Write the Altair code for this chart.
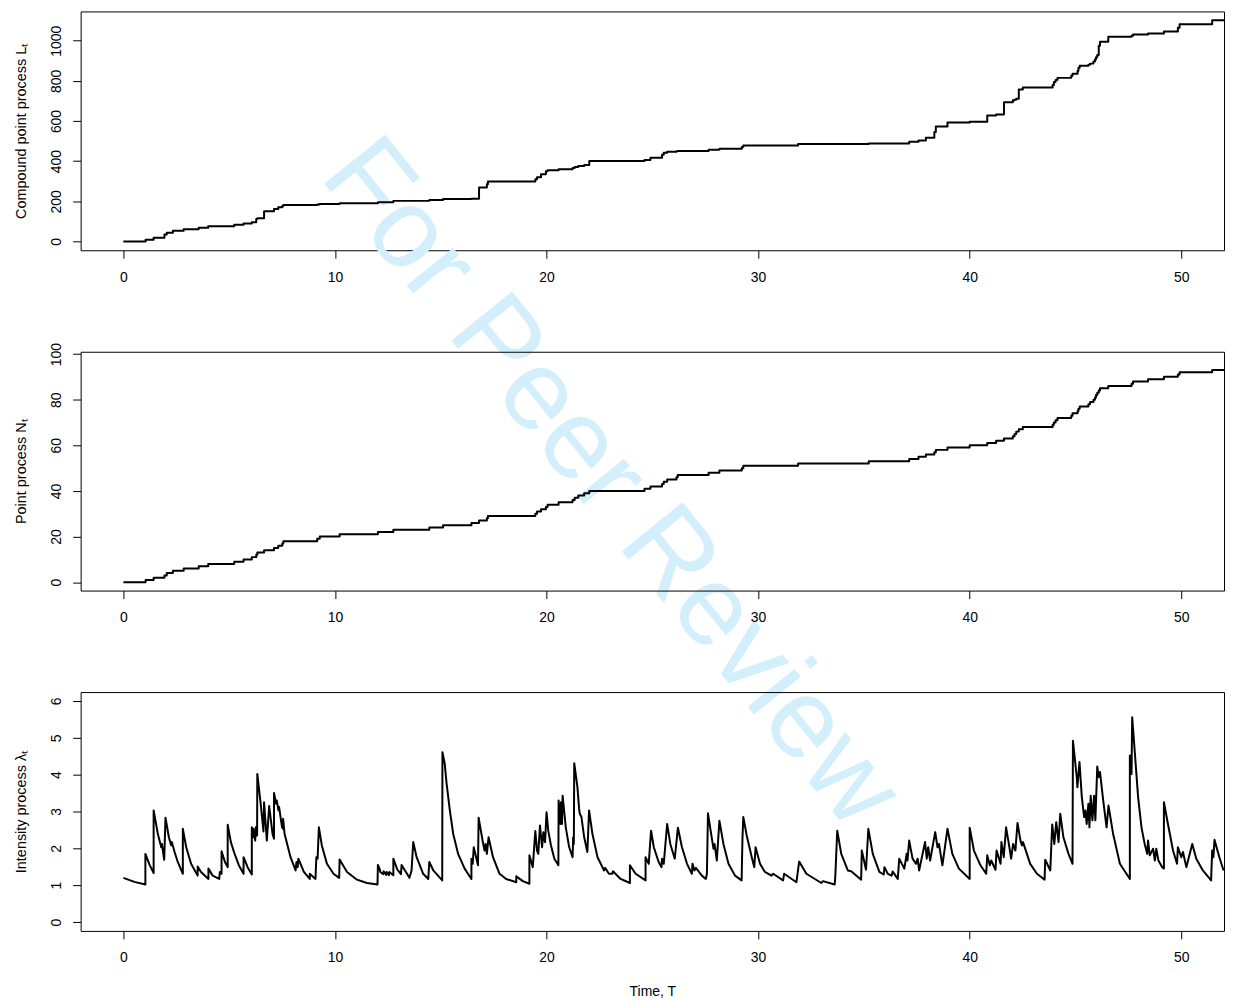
import altair as alt
import pandas as pd

FONT = "Liberation Sans"

# ---- event times (jumps of N_t and L_t) ----
event_t = [1.05, 1.43, 1.94, 2.05, 2.34, 2.85, 3.56, 4.01, 5.24, 5.68,
           6.07, 6.28, 6.33, 6.65, 7.12, 7.32, 7.51, 7.56, 9.16, 9.28,
           10.22, 12.03, 12.76, 14.46, 15.11, 16.45, 16.81, 17.18, 17.23, 19.47,
           19.55, 19.74, 19.97, 20.05, 20.57, 21.23, 21.33, 21.50, 21.78, 22.02,
           24.63, 24.91, 25.46, 25.54, 25.70, 26.14, 26.20, 27.66, 28.17, 29.23,
           29.30, 31.89, 35.23, 37.14, 37.58, 37.93, 38.33, 38.40, 38.95, 40.00,
           40.83, 41.25, 41.62, 42.04, 42.12, 42.20, 42.32, 42.51, 43.92, 43.98,
           44.06, 44.15, 44.80, 44.86, 45.10, 45.14, 45.20, 45.61, 45.69, 45.85,
           45.92, 45.97, 46.03, 46.10, 46.16, 46.55, 47.65, 47.72, 48.43, 49.18,
           49.84, 49.92, 51.46]

event_N = [1, 2, 3, 4, 5, 6, 7, 8, 9, 10,
           11, 12, 13, 14, 15, 16, 17, 18, 19, 20,
           21, 22, 23, 24, 25, 26, 27, 28, 29, 30,
           31, 32, 33, 34, 35, 36, 37, 38, 39, 40,
           41, 42, 43, 44, 45, 46, 47, 48, 49, 50,
           51, 52, 53, 54, 55, 56, 57, 58, 59, 60,
           61, 62, 63, 64, 65, 66, 67, 68, 69, 70,
           71, 72, 73, 74, 75, 76, 77, 78, 79, 80,
           81, 82, 83, 84, 85, 86, 87, 88, 89, 90,
           91, 92, 93]

event_L = [8, 18, 35, 43, 53, 61, 68, 76, 83, 89,
           96, 112, 115, 150, 162, 170, 176, 182, 184, 186,
           190, 195, 202, 206, 211, 213, 269, 285, 299, 310,
           320, 335, 350, 355, 360, 366, 371, 376, 381, 401,
           406, 417, 432, 442, 447, 449, 450, 457, 462, 470,
           478, 485, 488, 497, 503, 516, 545, 573, 592, 596,
           627, 632, 693, 703, 706, 711, 757, 767, 780, 794,
           805, 815, 825, 835, 850, 865, 876, 881, 886, 896,
           907, 918, 929, 975, 995, 1020, 1025, 1031, 1036, 1046,
           1065, 1082, 1102]

T_START = 0.0
T_END = 52.1

# ---- intensity process: points ----
lam_t = [0.00, 0.52, 1.04, 1.04, 1.24, 1.43, 1.43, 1.63, 1.79, 1.82,
         1.93, 1.99, 2.15, 2.26, 2.29, 2.42, 2.57, 2.81, 2.81, 2.97,
         3.20, 3.51, 3.51, 3.67, 4.02, 4.02, 4.22, 4.53, 4.56, 4.64,
         4.64, 4.80, 4.93, 4.93, 5.08, 5.24, 5.45, 5.68, 5.68, 5.87,
         6.07, 6.07, 6.14, 6.15, 6.23, 6.26, 6.32, 6.33, 6.49, 6.62,
         6.65, 6.78, 6.89, 7.05, 7.12, 7.12, 7.22, 7.25, 7.33, 7.36,
         7.50, 7.55, 7.55, 7.62, 7.90, 8.14, 8.18, 8.24, 8.27, 8.53,
         8.81, 8.81, 9.08, 9.12, 9.18, 9.24, 9.38, 9.62, 9.93, 10.20,
         10.22, 10.57, 11.04, 11.51, 12.01, 12.03, 12.12, 12.14, 12.28, 12.30,
         12.42, 12.44, 12.55, 12.57, 12.76, 12.76, 12.95, 13.12, 13.15, 13.52,
         13.62, 13.70, 13.86, 14.17, 14.41, 14.46, 14.65, 15.07, 15.08, 15.19,
         15.27, 15.43, 15.59, 15.82, 16.13, 16.45, 16.45, 16.51, 16.56, 16.76,
         16.79, 16.99, 17.07, 17.12, 17.18, 17.26, 17.47, 17.78, 18.09, 18.57,
         18.57, 18.88, 19.19, 19.19, 19.35, 19.47, 19.55, 19.61, 19.69, 19.79,
         19.85, 19.93, 20.00, 20.08, 20.21, 20.37, 20.56, 20.57, 20.65, 20.68,
         20.73, 20.76, 20.91, 21.07, 21.23, 21.26, 21.29, 21.31, 21.46, 21.54,
         21.57, 21.65, 21.78, 21.93, 22.01, 22.17, 22.41, 22.72, 22.77, 22.95,
         23.11, 23.14, 23.50, 23.94, 23.94, 24.21, 24.68, 24.68, 24.83, 24.94,
         25.07, 25.30, 25.43, 25.46, 25.54, 25.70, 25.85, 26.06, 26.21, 26.40,
         26.64, 26.87, 26.90, 26.99, 27.06, 27.34, 27.53, 27.58, 27.63, 27.78,
         27.89, 27.94, 28.05, 28.17, 28.36, 28.60, 28.91, 29.22, 29.26, 29.30,
         29.46, 29.70, 29.82, 29.88, 30.09, 30.32, 30.63, 30.71, 31.18, 31.23,
         31.81, 31.94, 32.28, 32.99, 33.06, 33.62, 33.65, 33.74, 33.93, 34.24,
         34.40, 34.87, 34.90, 35.10, 35.21, 35.42, 35.73, 35.94, 35.97, 36.13,
         36.31, 36.36, 36.60, 36.67, 36.91, 37.02, 37.06, 37.14, 37.30, 37.46,
         37.54, 37.61, 37.89, 37.97, 38.04, 38.13, 38.37, 38.48, 38.55, 38.71,
         38.95, 39.18, 39.49, 40.00, 40.00, 40.20, 40.51, 40.78, 40.83, 40.95,
         41.02, 41.22, 41.27, 41.46, 41.50, 41.61, 41.72, 41.85, 41.96, 42.05,
         42.16, 42.26, 42.40, 42.47, 42.52, 42.86, 43.18, 43.54, 43.57, 43.81,
         43.90, 44.00, 44.09, 44.20, 44.28, 44.43, 44.67, 44.86, 44.88, 44.98,
         45.06, 45.09, 45.19, 45.30, 45.41, 45.47, 45.53, 45.61, 45.66, 45.72,
         45.80, 45.88, 45.94, 46.03, 46.10, 46.16, 46.31, 46.47, 46.56, 46.78,
         47.10, 47.57, 47.57, 47.65, 47.68, 47.81, 47.96, 48.12, 48.27, 48.39,
         48.43, 48.51, 48.67, 48.75, 48.82, 48.92, 49.10, 49.18, 49.18, 49.37,
         49.61, 49.80, 49.84, 50.00, 50.08, 50.24, 50.52, 50.71, 51.02, 51.41,
         51.46, 51.52, 51.57, 51.80, 52.00]

lam_v = [1.20, 1.09, 1.02, 1.85, 1.55, 1.33, 3.03, 2.39, 2.03, 2.12,
         1.69, 2.83, 2.30, 2.08, 2.17, 1.90, 1.63, 1.31, 2.53, 2.03,
         1.58, 1.26, 1.51, 1.36, 1.17, 1.45, 1.26, 1.17, 1.36, 1.31,
         1.92, 1.63, 1.49, 2.64, 2.17, 1.88, 1.55, 1.31, 1.76, 1.49,
         1.29, 2.57, 2.30, 2.53, 2.21, 2.57, 2.35, 4.02, 3.21, 2.46,
         3.25, 2.21, 3.15, 2.39, 2.26, 3.50, 3.21, 3.30, 3.03, 3.12,
         2.57, 2.53, 2.80, 2.39, 1.76, 1.40, 1.63, 1.49, 1.72, 1.36,
         1.17, 1.31, 1.17, 1.76, 1.72, 2.57, 2.08, 1.58, 1.31, 1.20,
         1.70, 1.36, 1.15, 1.06, 1.02, 1.55, 1.43, 1.36, 1.30, 1.38,
         1.28, 1.36, 1.27, 1.36, 1.27, 1.72, 1.42, 1.30, 1.55, 1.20,
         1.40, 2.17, 1.76, 1.31, 1.17, 1.63, 1.40, 1.13, 4.61, 4.29,
         3.79, 3.03, 2.39, 1.85, 1.45, 1.17, 1.72, 1.58, 2.03, 1.54,
         2.83, 2.17, 1.94, 2.12, 1.85, 2.30, 1.76, 1.31, 1.17, 1.08,
         1.24, 1.11, 1.04, 1.81, 1.49, 2.47, 1.94, 1.85, 2.62, 2.03,
         2.44, 2.17, 2.98, 2.48, 2.08, 1.72, 1.54, 3.30, 2.66, 3.25,
         2.66, 3.43, 2.57, 2.03, 1.76, 2.30, 2.12, 4.31, 3.66, 3.07,
         2.94, 2.85, 2.30, 1.90, 3.03, 2.39, 1.76, 1.40, 1.47, 1.31,
         1.31, 1.38, 1.17, 1.06, 1.54, 1.31, 1.13, 1.76, 1.58, 2.48,
         2.03, 1.63, 1.49, 1.72, 1.58, 2.66, 2.12, 1.72, 2.56, 2.03,
         1.58, 1.31, 1.58, 1.40, 1.47, 1.26, 1.17, 1.31, 2.95, 2.39,
         1.99, 2.12, 1.67, 2.75, 2.12, 1.58, 1.26, 1.13, 2.26, 2.85,
         2.35, 1.76, 1.49, 2.03, 1.58, 1.36, 1.26, 1.31, 1.13, 1.31,
         1.08, 1.64, 1.31, 1.06, 1.11, 1.02, 1.26, 2.48, 1.85, 1.40,
         1.38, 1.15, 1.94, 1.42, 2.53, 1.85, 1.36, 1.29, 1.49, 1.31,
         1.26, 1.37, 1.17, 1.72, 1.45, 1.85, 1.67, 2.21, 1.72, 1.58,
         1.72, 1.40, 2.17, 1.72, 2.03, 1.67, 2.44, 2.03, 2.12, 1.54,
         2.53, 1.85, 1.45, 1.17, 2.56, 1.94, 1.54, 1.31, 1.81, 1.54,
         1.67, 1.42, 1.94, 1.58, 2.17, 1.76, 2.57, 2.12, 1.72, 2.12,
         1.94, 2.69, 2.21, 2.08, 2.17, 1.58, 1.31, 1.15, 1.69, 1.40,
         2.65, 2.12, 2.71, 2.17, 2.94, 2.30, 1.85, 1.58, 4.92, 4.38,
         3.93, 3.66, 4.34, 3.39, 2.85, 3.03, 2.66, 3.21, 2.57, 3.43,
         2.76, 3.43, 2.76, 4.22, 3.93, 4.07, 3.30, 2.57, 3.16, 2.39,
         1.58, 1.17, 4.52, 4.02, 5.56, 4.56, 3.39, 2.57, 2.12, 1.85,
         2.21, 1.81, 1.99, 1.67, 1.99, 1.67, 1.49, 1.45, 3.25, 2.66,
         1.94, 1.58, 2.03, 1.76, 1.90, 1.49, 2.12, 1.72, 1.40, 1.13,
         1.94, 1.76, 2.23, 1.76, 1.40]

x_ticks = [0, 10, 20, 30, 40, 50]
L_ticks = [0, 200, 400, 600, 800, 1000]
N_ticks = [0, 20, 40, 60, 80, 100]
lam_ticks = [0, 1, 2, 3, 4, 5, 6]

titles = ["Compound point process L\u209c", "Point process N\u209c",
          "Intensity process  \u03bb\u209c"]
x_title = "Time, T"
watermark = "For Peer Review"

# ---- tables ----
step_t = [T_START] + event_t + [T_END]
step_N = [0] + event_N + [event_N[-1]]
step_L = [0] + event_L + [event_L[-1]]
df_step = pd.DataFrame({"t": step_t, "N": step_N, "L": step_L,
                        "i": list(range(len(step_t)))})
df_lam = pd.DataFrame({"t": lam_t, "v": lam_v, "i": list(range(len(lam_t)))})
df_wm = pd.DataFrame({"txt": [watermark]})

W, H = 1149, 240
XDOM = [-2.02, 52.02]


def xenc(title=None):
    return alt.X("t:Q", title=title,
                 scale=alt.Scale(domain=XDOM, nice=False, zero=False),
                 axis=alt.Axis(values=x_ticks, format="d", tickSize=8, labelPadding=12,
                               domain=False, grid=False, labelFontSize=14,
                               titleFontSize=14, titleFontWeight="normal",
                               labelFont=FONT, titleFont=FONT, labelColor="black",
                               titleColor="black", tickColor="black", tickWidth=1,
                               minExtent=34, maxExtent=34, titlePadding=20,
                               labelOverlap=False, labelFlush=False))


def yenc(field, dom, ticks, title):
    return alt.Y(field, title=title,
                 scale=alt.Scale(domain=dom, nice=False, zero=False),
                 axis=alt.Axis(values=ticks, format="d", tickSize=8, labelPadding=9,
                               labelAngle=270, labelAlign="center", labelBaseline="bottom",
                               domain=False, grid=False, labelFontSize=14,
                               titleFontSize=14.5, titleFontWeight="normal",
                               labelFont=FONT, titleFont=FONT, labelColor="black",
                               titleColor="black", tickColor="black", tickWidth=1,
                               minExtent=40, maxExtent=40, titlePadding=12.8,
                               labelOverlap=False, labelFlush=False))


line_style = dict(color="black", strokeWidth=2, clip=True, strokeJoin="round")

wm = alt.Chart(df_wm).mark_text(
    font=FONT, fontSize=114, color="#d4effc", angle=51, align="left",
    baseline="alphabetic").encode(
    x=alt.value(239), y=alt.value(166), text="txt:N")

top_line = alt.Chart(df_step).mark_line(interpolate="step-after", **line_style).encode(
    x=xenc(), y=yenc("L:Q", [-44.1, 1146.1], L_ticks, titles[0]), order="i:Q")
top = alt.layer(wm, top_line).properties(width=W, height=H)

mid = alt.Chart(df_step).mark_line(interpolate="step-after", **line_style).encode(
    x=xenc(), y=yenc("N:Q", [-3.66, 101.0], N_ticks, titles[1]), order="i:Q"
).properties(width=W, height=H)

bot = alt.Chart(df_lam).mark_line(**line_style).encode(
    x=xenc(x_title), y=yenc("v:Q", [-0.24, 6.24], lam_ticks, titles[2]), order="i:Q"
).properties(width=W, height=H)

chart = alt.vconcat(top, mid, bot, spacing=102, bounds="flush").properties(
    padding={"left": 4, "top": 0, "right": 0, "bottom": 0}
).configure_view(stroke="black", strokeWidth=1)

chart.save("out.html", embed_options={"renderer": "svg", "actions": False})
